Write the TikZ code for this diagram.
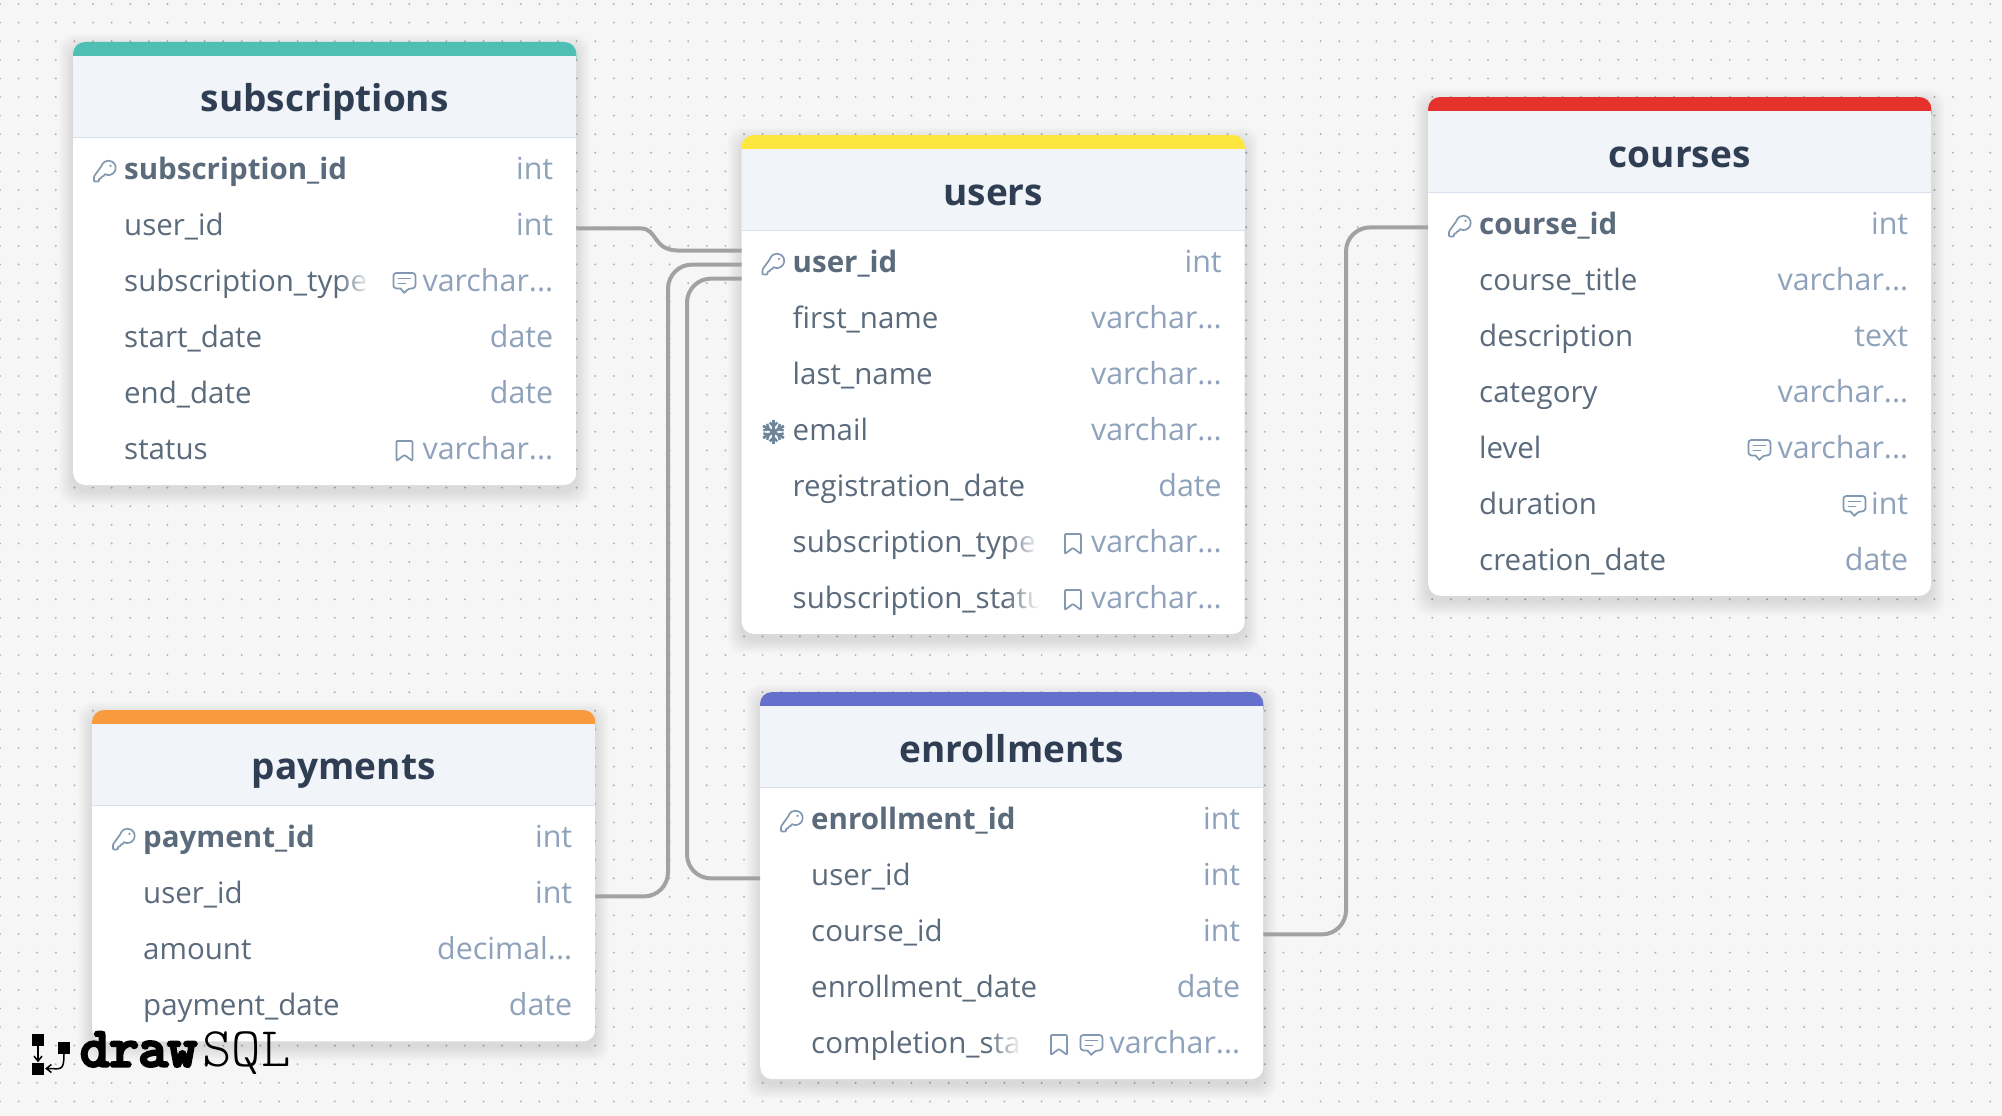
\documentclass[tikz,border=0pt]{standalone}
\usepackage{fontspec}
\setmainfont{Open Sans}
\newfontfamily\logobold[FakeBold=6,FakeStretch=1.03]{Latin Modern Mono}
\newfontfamily\logolight{Latin Modern Mono Light}
\usetikzlibrary{positioning,arrows.meta}
\usetikzlibrary{fadings}

\definecolor{pagebg}{HTML}{F6F6F6}
\definecolor{griddot}{HTML}{B4B4B4}
\definecolor{headbg}{HTML}{F1F4F9}
\definecolor{headrule}{HTML}{D8E2EE}
\definecolor{titleink}{HTML}{2F3E52}
\definecolor{fieldink}{HTML}{5B6B7C}
\definecolor{typeink}{HTML}{8FA2BB}
\definecolor{iconink}{HTML}{8298B0}
\definecolor{snowink}{HTML}{6F8599}
\definecolor{relink}{HTML}{A2A2A2}
\definecolor{tealband}{HTML}{4DBFB3}
\definecolor{yellowband}{HTML}{FDE73F}
\definecolor{redband}{HTML}{E5322D}
\definecolor{orangeband}{HTML}{F99A3E}
\definecolor{indigoband}{HTML}{6570CC}

\tikzset{
  tablecard/.style={fill=white,rounded corners=12pt,anchor=north west,minimum width=503pt,inner sep=0pt},
  tablehead/.style={fill=headbg,minimum width=503pt,minimum height=81pt,inner sep=0pt,text=titleink,font=\fontsize{37}{46}\selectfont\bfseries},
  rowbox/.style={text width=503pt,minimum height=55.6pt,inner sep=0pt,text=fieldink,font=\fontsize{29.5}{36}\selectfont},
  relation/.style={draw=relink,line width=4pt,rounded corners=24pt},
  iconline/.style={draw=iconink,line width=1.7pt,line join=round,line cap=round},
  keyicon/.pic={
    \draw[iconline,rounded corners=0.8pt] (-0.1,3.2) arc[start angle=240,end angle=524,radius=7.2pt] -- (-11,5.5) -- (-11,10.5) -- (-6,10.5) -- (-6,7.5) -- (-3.5,7.5) -- (-3.5,5.5) -- (-1.5,5.5) -- (-0.1,3.2);
    \fill[iconink] (5.5,-5) circle (1.3pt);
  },
  commenticon/.pic={
    \draw[iconline] (-4,5.5) [rounded corners=3pt] -- (-11,5.5) -- (-11,-10) -- (11,-10) -- (11,5.5) -- (4,5.5) [sharp corners] -- (0,10) -- cycle;
    \draw[iconline] (-6,-4.5) -- (6,-4.5);
    \draw[iconline] (-6,0.5) -- (1,0.5);
  },
  markicon/.pic={
    \draw[iconline,rounded corners=1pt] (-8,-10) -- (8,-10) -- (8,10) -- (0,4) -- (-8,10) -- cycle;
  },
  snowicon/.pic={
    \foreach \a in {30,90,...,330}{
      \draw[snowink,line width=2.8pt,rotate=\a] (0,0) -- (12,0);
      \draw[snowink,line width=2.4pt,rotate=\a] (9.5,-3.8) -- (5.5,0) -- (9.5,3.8);
    }
  },
  logosquare/.style={fill=black,minimum size=12pt,inner sep=0pt},
  logoarrow/.style={draw=black,line width=1.5pt,-{Straight Barb[length=5pt,width=8pt]}},
  logotext/.style={inner sep=0pt,anchor=base west,text=black},
}

% card with shadow, colour band and title
\newcommand{\dbcard}[6]{%
  \foreach \s in {1,...,14}
    \fill[black,opacity=.009,rounded corners=14pt] (#2-\s,#3+6-\s) rectangle (#2+503+\s,#3+114+55.8*#4+\s);
  \node[tablecard,minimum height=108pt+55.8pt*#4] (#1) at (#2,#3) {};
  \fill[#5,rounded corners=12pt] (#1.north west) rectangle ([yshift=-28pt]#1.north east);
  \node[tablehead,below=14pt of #1.north] (#1-head) {\strut\raisebox{-7pt}{#6}};
  \draw[headrule,line width=1.5pt] (#1-head.south west) -- (#1-head.south east);
}
\newcommand{\fieldrow}[2]{\hspace*{51pt}#1\hfill\textcolor{typeink}{\fontsize{30.4}{36}\selectfont #2}\hspace*{23pt}\strut}
% long names fade out before the icons
\newcommand{\fadename}[4]{%
  \fill[white,path fading=west] ([xshift=#2pt,yshift=22pt]#1.west) rectangle ([xshift=#3pt,yshift=-22pt]#1.west);
  \fill[white] ([xshift=#3pt,yshift=22pt]#1.west) rectangle ([xshift=#4pt,yshift=-22pt]#1.west);
}

\begin{document}
\begin{tikzpicture}[x=1pt,y=-1pt,node distance=0pt,>=Latex,every pic/.style={yshift=1.5pt}]
  \path[use as bounding box,fill=pagebg] (0,0) rectangle (2002,1116);
  \foreach \i in {0,...,107}
    \foreach \j in {0,...,59}
      \fill[griddot] (18.6*\i,4+18.6*\j) circle (1.1pt);

  % subscriptions
  \dbcard{subs}{73}{42}{6}{tealband}{subscriptions}
  \node[rowbox,below=7pt of subs-head] (subs-id) {\fieldrow{\textbf{subscription\_id}}{int}};
  \node[rowbox,below=of subs-id] (subs-user) {\fieldrow{user\_id}{int}};
  \node[rowbox,below=of subs-user] (subs-type) {\fieldrow{subscription\_type}{varchar...}};
  \node[rowbox,below=of subs-type] (subs-start) {\fieldrow{start\_date}{date}};
  \node[rowbox,below=of subs-start] (subs-end) {\fieldrow{end\_date}{date}};
  \node[rowbox,below=of subs-end] (subs-status) {\fieldrow{status}{varchar...}};
  \fadename{subs-type}{265}{298}{320}
  \pic at ([xshift=32pt]subs-id.west) {keyicon};
  \pic at ([xshift=-172pt]subs-type.east) {commenticon};
  \pic at ([xshift=-172pt]subs-status.east) {markicon};

  % users
  \dbcard{users}{741.5}{135}{7}{yellowband}{users}
  \node[rowbox,below=7pt of users-head] (users-id) {\fieldrow{\textbf{user\_id}}{int}};
  \node[rowbox,below=of users-id] (users-first) {\fieldrow{first\_name}{varchar...}};
  \node[rowbox,below=of users-first] (users-last) {\fieldrow{last\_name}{varchar...}};
  \node[rowbox,below=of users-last] (users-email) {\fieldrow{email}{varchar...}};
  \node[rowbox,below=of users-email] (users-reg) {\fieldrow{registration\_date}{date}};
  \node[rowbox,below=of users-reg] (users-type) {\fieldrow{subscription\_type}{varchar...}};
  \node[rowbox,below=of users-type] (users-status) {\fieldrow{subscription\_status}{varchar...}};
  \fadename{users-type}{265}{298}{320}
  \fadename{users-status}{265}{298}{320}
  \pic at ([xshift=32pt]users-id.west) {keyicon};
  \pic at ([xshift=32pt]users-email.west) {snowicon};
  \pic at ([xshift=-172pt]users-type.east) {markicon};
  \pic at ([xshift=-172pt]users-status.east) {markicon};

  % courses
  \dbcard{courses}{1428}{97}{7}{redband}{courses}
  \node[rowbox,below=7pt of courses-head] (courses-id) {\fieldrow{\textbf{course\_id}}{int}};
  \node[rowbox,below=of courses-id] (courses-title) {\fieldrow{course\_title}{varchar...}};
  \node[rowbox,below=of courses-title] (courses-desc) {\fieldrow{description}{text}};
  \node[rowbox,below=of courses-desc] (courses-cat) {\fieldrow{category}{varchar...}};
  \node[rowbox,below=of courses-cat] (courses-level) {\fieldrow{level}{varchar...}};
  \node[rowbox,below=of courses-level] (courses-dur) {\fieldrow{duration}{int}};
  \node[rowbox,below=of courses-dur] (courses-date) {\fieldrow{creation\_date}{date}};
  \pic at ([xshift=32pt]courses-id.west) {keyicon};
  \pic at ([xshift=-172pt]courses-level.east) {commenticon};
  \pic at ([xshift=-77pt]courses-dur.east) {commenticon};

  % payments
  \dbcard{pay}{92}{710}{4}{orangeband}{payments}
  \node[rowbox,below=7pt of pay-head] (pay-id) {\fieldrow{\textbf{payment\_id}}{int}};
  \node[rowbox,below=of pay-id] (pay-user) {\fieldrow{user\_id}{int}};
  \node[rowbox,below=of pay-user] (pay-amount) {\fieldrow{amount}{decimal...}};
  \node[rowbox,below=of pay-amount] (pay-date) {\fieldrow{payment\_date}{date}};
  \pic at ([xshift=32pt]pay-id.west) {keyicon};

  % enrollments
  \dbcard{enrol}{760}{692}{5}{indigoband}{enrollments}
  \node[rowbox,below=7pt of enrol-head] (enrol-id) {\fieldrow{\textbf{enrollment\_id}}{int}};
  \node[rowbox,below=of enrol-id] (enrol-user) {\fieldrow{user\_id}{int}};
  \node[rowbox,below=of enrol-user] (enrol-course) {\fieldrow{course\_id}{int}};
  \node[rowbox,below=of enrol-course] (enrol-date) {\fieldrow{enrollment\_date}{date}};
  \node[rowbox,below=of enrol-date] (enrol-status) {\fieldrow{completion\_status}{varchar...}};
  \fadename{enrol-status}{228}{262}{325}
  \pic at ([xshift=32pt]enrol-id.west) {keyicon};
  \pic at ([xshift=-204.5pt]enrol-status.east) {markicon};
  \pic at ([xshift=-172pt]enrol-status.east) {commenticon};

  % relations
  \coordinate (users-in-subs) at ([yshift=14.8pt]users-id.west);
  \coordinate (users-in-pay) at ([yshift=0.8pt]users-id.west);
  \coordinate (users-in-enrol) at ([yshift=-13.2pt]users-id.west);
  \draw[relation,rounded corners=0pt] (subs-user.east) -- ++(64,0) .. controls +(18,0) and ([xshift=-90pt]users-in-subs) .. ([xshift=-62pt]users-in-subs) -- (users-in-subs);
  \draw[relation] (pay-user.east) -| ([xshift=-73.5pt]users-in-pay) -- (users-in-pay);
  \draw[relation] (enrol-user.west) -| ([xshift=-54.5pt]users-in-enrol) -- (users-in-enrol);
  \draw[relation] (enrol-course.east) -| ([xshift=-82pt]courses-id.west) -- (courses-id.west);

  % logo
  \node[logosquare] (logotop) at (38,1040) {};
  \node[logosquare] (logobottom) at (38,1068.5) {};
  \node[logosquare] (logoright) at (64,1048) {};
  \draw[logoarrow] (logotop) -- (logobottom);
  \draw[logoarrow,shorten >=1pt] (logoright.south) .. controls +(0,18) and +(16,0) .. (logobottom.east);
  \node[logotext,font=\fontsize{55}{60}\logobold] (logodraw) at (80,1066) {draw};
  \node[logotext,font=\fontsize{56}{60}\logolight,xshift=5pt] (logosql) at (logodraw.base east) {SQL};
\end{tikzpicture}
\end{document}
